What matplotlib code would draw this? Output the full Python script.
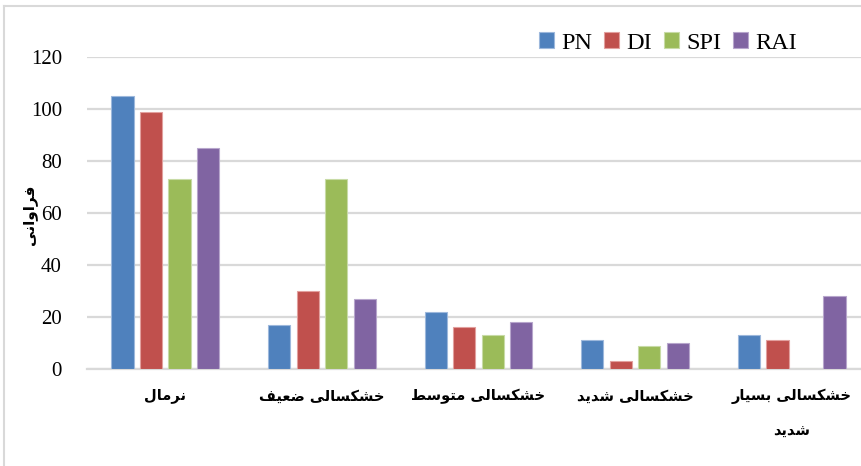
import matplotlib
matplotlib.use("Agg")
import matplotlib.pyplot as plt
import numpy as np
from matplotlib.lines import Line2D

categories = ["نرمال", "خشکسالی ضعیف", "خشکسالی متوسط", "خشکسالی شدید", "خشکسالی بسیار\nشدید"]
series_names = ["PN", "DI", "SPI", "RAI"]
PN = [105, 17, 22, 11, 13]
DI = [99, 30, 16, 3, 11]
SPI = [73, 73, 13, 9, 0]
RAI = [85, 27, 18, 10, 28]
y_ticks = [0, 20, 40, 60, 80, 100, 120]
y_label = "فراوانی"
colors = ["#4F81BD", "#C0504D", "#9BBB59", "#8064A2"]
edge_colors = ["#9DB8DC", "#E2A09E", "#C8DBA6", "#B7A6CC"]

# --- minimal Arabic/Persian shaping (presentation forms) ---
FORMS = {
    "ا": ("\uFE8D", "\uFE8E", None, None),
    "ب": ("\uFE8F", "\uFE90", "\uFE91", "\uFE92"),
    "ت": ("\uFE95", "\uFE96", "\uFE97", "\uFE98"),
    "خ": ("\uFEA5", "\uFEA6", "\uFEA7", "\uFEA8"),
    "د": ("\uFEA9", "\uFEAA", None, None),
    "ر": ("\uFEAD", "\uFEAE", None, None),
    "س": ("\uFEB1", "\uFEB2", "\uFEB3", "\uFEB4"),
    "ش": ("\uFEB5", "\uFEB6", "\uFEB7", "\uFEB8"),
    "ض": ("\uFEBD", "\uFEBE", "\uFEBF", "\uFEC0"),
    "ط": ("\uFEC1", "\uFEC2", "\uFEC3", "\uFEC4"),
    "ع": ("\uFEC9", "\uFECA", "\uFECB", "\uFECC"),
    "ف": ("\uFED1", "\uFED2", "\uFED3", "\uFED4"),
    "ل": ("\uFEDD", "\uFEDE", "\uFEDF", "\uFEE0"),
    "م": ("\uFEE1", "\uFEE2", "\uFEE3", "\uFEE4"),
    "ن": ("\uFEE5", "\uFEE6", "\uFEE7", "\uFEE8"),
    "و": ("\uFEED", "\uFEEE", None, None),
    "ی": ("\uFBFC", "\uFBFD", "\uFBFE", "\uFBFF"),
    "ک": ("\uFB8E", "\uFB8F", "\uFB90", "\uFB91"),
}


def shape_word(s):
    out = []
    n = len(s)
    for i, ch in enumerate(s):
        if ch not in FORMS:
            out.append(ch)
            continue
        iso, fin, ini, med = FORMS[ch]
        prev = s[i - 1] if i > 0 else None
        nxt = s[i + 1] if i + 1 < n else None
        join_prev = prev in FORMS and FORMS[prev][2] is not None
        join_next = nxt in FORMS and ini is not None
        if join_prev and join_next:
            out.append(med)
        elif join_prev:
            out.append(fin)
        elif join_next:
            out.append(ini)
        else:
            out.append(iso)
    return "".join(out)


def rtl(text):
    lines = []
    for line in text.split("\n"):
        lines.append(shape_word(line)[::-1])
    return "\n".join(lines)


fig = plt.figure(figsize=(8.62, 4.66), dpi=100)
W, H = 862, 466
ax_left, ax_right, ax_bottom, ax_top = 87, 870, 369, 57
ax = fig.add_axes([ax_left / W, 1 - ax_bottom / H, (ax_right - ax_left) / W, (ax_bottom - ax_top) / H])

x = np.arange(len(categories))
pitch = 0.182
width = 0.142
data = [PN, DI, SPI, RAI]
for k, (name, vals) in enumerate(zip(series_names, data)):
    ax.bar(x + (k - 1.5) * pitch, vals, width=width, color=colors[k],
           edgecolor=edge_colors[k], linewidth=0.8, label=name, zorder=3)

ax.set_xlim(-0.5, len(categories) - 0.5)
ax.set_ylim(0, 120)
ax.set_yticks(y_ticks)
ax.set_yticklabels([str(v) for v in y_ticks], fontfamily="Liberation Serif", fontsize=15)
ax.tick_params(axis="y", length=0, pad=18)
ax.tick_params(axis="x", length=0, pad=14)
ax.set_xticks(x)
ax.set_xticklabels([rtl(c) for c in categories], fontfamily="DejaVu Sans",
                   fontweight="bold", fontsize=10.5, linespacing=2.7, va="top")
ax.yaxis.grid(True, color="#D9D9D9", linewidth=1.6, zorder=0)
for s in ["top", "right", "left"]:
    ax.spines[s].set_visible(False)
ax.spines["bottom"].set_color("#D9D9D9")
ax.spines["bottom"].set_linewidth(1.6)

fig.text(30 / W, 1 - 215 / H, rtl(y_label), rotation=90, ha="center", va="center",
         fontfamily="DejaVu Sans", fontweight="bold", fontsize=11)

leg = fig.legend(loc="center", bbox_to_anchor=(668 / W, 1 - 43 / H), ncol=4, frameon=False,
                 prop={"family": "Liberation Serif", "size": 17.5}, handlelength=0.6,
                 handleheight=0.6, handletextpad=0.3, columnspacing=0.5)

# chart outer border (left and top visible)
fig.add_artist(Line2D([4.5 / W, 4.5 / W], [0, 1 - 5.5 / H], color="#D9D9D9", linewidth=1.5))
fig.add_artist(Line2D([4.5 / W, 1], [1 - 5.5 / H, 1 - 5.5 / H], color="#D9D9D9", linewidth=1.5))

fig.savefig("out.png", dpi=100)
